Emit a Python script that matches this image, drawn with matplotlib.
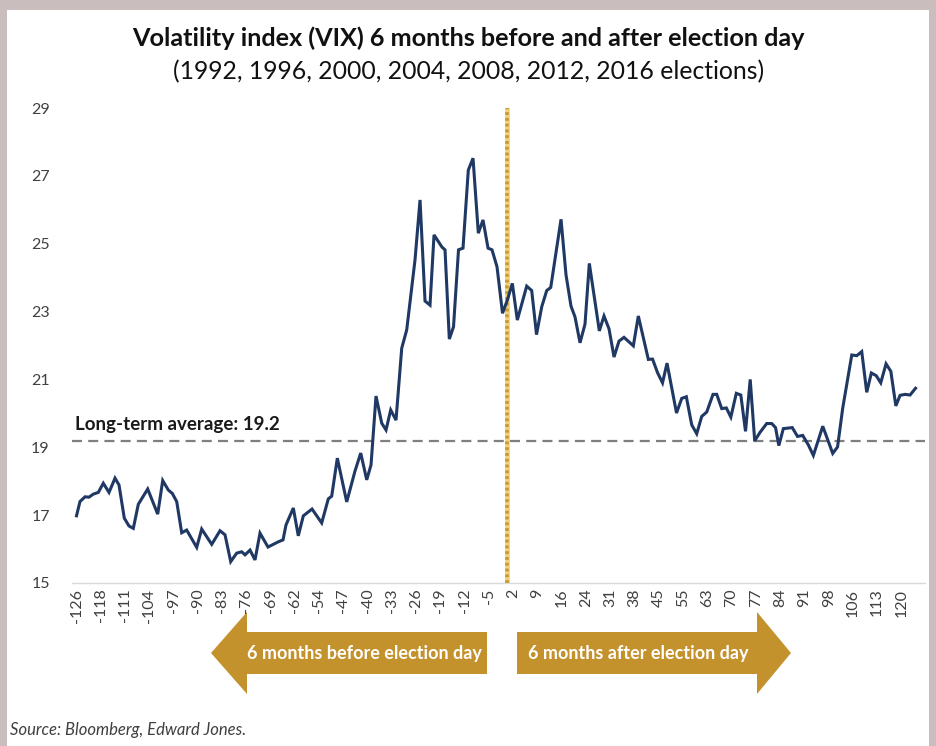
import matplotlib
matplotlib.use("Agg")
import matplotlib.pyplot as plt
from matplotlib.patches import Polygon, Rectangle

# Trading-session labels shown every 7th session along the category axis
day_labels = [-126, -118, -111, -104, -97, -90, -83, -76, -69, -62, -54, -47,
              -40, -33, -26, -19, -12, -5, 2, 9, 16, 24, 31, 38, 45, 55, 63,
              70, 77, 84, 91, 98, 106, 113, 120]
LABEL_STEP = 7

# Average VIX path: position along the session axis and index level
session_pos = [0.0, 1.0, 2.45, 3.61, 4.85, 6.29, 7.73, 9.38, 11.11, 12.26,
               13.79, 15.15, 16.39, 17.83, 20.54, 23.43, 24.87, 26.49, 27.64, 28.91,
               30.35, 31.79, 34.68, 36.12, 39.01, 41.40, 42.85, 44.49, 46.22, 47.66,
               48.62, 50.06, 51.50, 52.94, 55.25, 58.14, 59.58, 60.44, 62.55, 63.99,
               65.44, 67.95, 70.74, 72.65, 73.63, 75.25, 77.96, 80.35, 82.00, 83.73,
               84.97, 86.41, 88.06, 89.30, 90.65, 92.18, 93.83, 95.27, 97.66, 99.11,
               100.55, 101.99, 103.15, 105.45, 106.32, 107.56, 108.77, 110.21, 111.51, 113.04,
               114.40, 115.93, 117.28, 118.73, 119.88, 121.32, 122.91, 124.30, 125.74, 127.18,
               129.89, 131.33, 132.72, 134.22, 135.66, 136.82, 139.79, 141.23, 142.67, 143.83,
               145.27, 146.71, 147.95, 150.84, 152.19, 153.64, 155.08, 156.52, 157.96, 160.65,
               162.09, 164.98, 166.19, 167.63, 169.07, 170.37, 173.11, 174.61, 175.94, 177.50,
               178.94, 180.38, 181.83, 183.64, 184.71, 186.15, 187.48, 188.78, 190.36, 191.66,
               193.02, 194.37, 195.67, 197.20, 199.13, 200.58, 201.68, 202.63, 203.93, 206.50,
               208.02, 209.52, 211.14, 212.59, 215.30, 218.18, 219.57, 221.07, 223.67, 225.11,
               226.55, 227.99, 229.32, 230.73, 232.03, 233.56, 234.94, 236.39, 237.60, 239.04,
               240.48, 242.07]
vix = [16.98, 17.40, 17.54, 17.53, 17.62, 17.67, 17.94, 17.67, 18.09, 17.89,
       16.91, 16.68, 16.61, 17.32, 17.77, 17.03, 18.02, 17.74, 17.64, 17.40,
       16.48, 16.56, 16.05, 16.59, 16.14, 16.54, 16.42, 15.63, 15.88, 15.92,
       15.83, 15.97, 15.68, 16.47, 16.06, 16.21, 16.27, 16.71, 17.21, 16.39,
       16.98, 17.18, 16.77, 17.48, 17.56, 18.68, 17.39, 18.30, 18.83, 18.04,
       18.48, 20.51, 19.71, 19.51, 20.10, 19.80, 21.92, 22.46, 24.52, 26.29,
       23.31, 23.19, 25.26, 24.90, 24.82, 22.19, 22.55, 24.82, 24.87, 27.17,
       27.52, 25.31, 25.70, 24.87, 24.82, 24.32, 22.95, 23.34, 23.83, 22.75,
       23.75, 23.62, 22.32, 23.14, 23.62, 23.71, 25.72, 24.08, 23.16, 22.84,
       22.08, 22.63, 24.42, 22.43, 22.87, 22.49, 21.66, 22.13, 22.24, 21.99,
       22.87, 21.59, 21.60, 21.20, 20.90, 21.48, 20.01, 20.44, 20.49, 19.66,
       19.40, 19.91, 20.04, 20.56, 20.56, 20.14, 20.16, 19.89, 20.59, 20.54,
       19.47, 21.00, 19.19, 19.44, 19.70, 19.70, 19.58, 19.05, 19.55, 19.58,
       19.32, 19.35, 19.07, 18.76, 19.62, 18.82, 19.01, 20.16, 21.72, 21.70,
       21.82, 20.62, 21.19, 21.11, 20.90, 21.46, 21.24, 20.22, 20.53, 20.56,
       20.54, 20.74]

long_term_avg = 19.2
election_pos = 124.2

W, H = 937, 746
FONT = "Lato"
plt.rcParams["font.family"] = [FONT, "DejaVu Sans"]

fig = plt.figure(figsize=(W / 100, H / 100), dpi=100, facecolor="#c9bdbd")
fig.patches.append(Rectangle((7 / W, 0), 922 / W, 736 / H, transform=fig.transFigure,
                             facecolor="white", edgecolor="none", zorder=-10))

ax = fig.add_axes([72 / W, 1 - 583 / H, 853 / W, 475 / H])
ax.set_facecolor("none")
ax.set_zorder(2)

# VIX line
ax.plot(session_pos, vix, color="#1f3864", lw=2.2, solid_joinstyle="miter", zorder=4)

# Long-term average reference
ax.axhline(long_term_avg, color="#7f7f7f", lw=1.6, dashes=(4.5, 2.8), zorder=2)
ax.text(-0.4, long_term_avg + 0.22, f"Long-term average: {long_term_avg}",
        fontsize=13.5, fontweight="bold", color="#1a1a1a", va="bottom", ha="left")

# Election day marker
ax.axvline(election_pos, color="#f0d27a", lw=3.4, zorder=3)
ax.axvline(election_pos, color="#c99a2e", lw=2.6, dashes=(0.8, 0.8), zorder=3)

ax.set_ylim(15, 29)
ax.set_yticks(range(15, 30, 2))
ax.set_xlim(-1.3, 244.8)
ax.set_xticks([i * LABEL_STEP for i in range(len(day_labels))])
ax.set_xticklabels([str(d) for d in day_labels], rotation=90, va="top", ha="center")

for side in ("left", "right", "top"):
    ax.spines[side].set_visible(False)
ax.spines["bottom"].set_color("#d9d9d9")
ax.spines["bottom"].set_linewidth(1.0)
ax.tick_params(axis="both", length=0, colors="#404040", labelsize=11.5)
ax.tick_params(axis="y", pad=16)
ax.tick_params(axis="x", pad=4)

# Title and subtitle
fig.text(0.5, 1 - 38 / H, "Volatility index (VIX) 6 months before and after election day",
         ha="center", va="center", fontsize=18.2, fontweight="bold", color="#111111")
fig.text(0.5, 1 - 72 / H, "(1992, 1996, 2000, 2004, 2008, 2012, 2016 elections)",
         ha="center", va="center", fontsize=17.8, color="#111111")

# Direction arrows beneath the axis
gold = "#c4922c"
cy, bh, hh = 653, 21, 41


def fig_xy(px, py):
    return (px / W, 1 - py / H)


left_arrow = [fig_xy(211, cy), fig_xy(247, cy - hh), fig_xy(247, cy - bh), fig_xy(487, cy - bh),
              fig_xy(487, cy + bh), fig_xy(247, cy + bh), fig_xy(247, cy + hh)]
right_arrow = [fig_xy(791, cy), fig_xy(757, cy - hh), fig_xy(757, cy - bh), fig_xy(517, cy - bh),
               fig_xy(517, cy + bh), fig_xy(757, cy + bh), fig_xy(757, cy + hh)]
for pts in (left_arrow, right_arrow):
    fig.patches.append(Polygon(pts, closed=True, transform=fig.transFigure,
                               facecolor=gold, edgecolor="none", zorder=1))
fig.text(364 / W, 1 - cy / H, "6 months before election day", ha="center", va="center",
         fontsize=13, fontweight="bold", color="white")
fig.text(638 / W, 1 - cy / H, "6 months after election day", ha="center", va="center",
         fontsize=13, fontweight="bold", color="white")

fig.text(10 / W, 1 - 730 / H, "Source: Bloomberg, Edward Jones.", ha="left", va="center",
         fontsize=12, fontstyle="italic", color="#404040")

fig.savefig("out.png", dpi=100, facecolor=fig.get_facecolor())
